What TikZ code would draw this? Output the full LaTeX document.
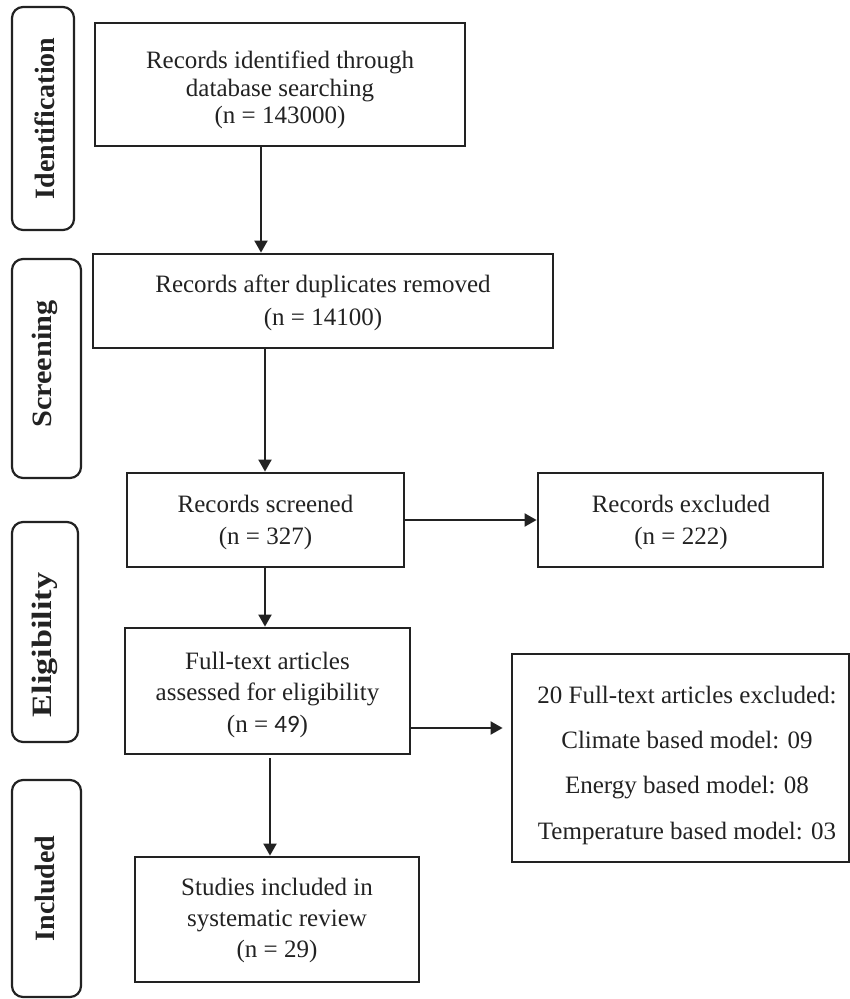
\documentclass[tikz,border=0pt]{standalone}
\usepackage{fontspec}
\setmainfont{Liberation Serif}
\newfontfamily\calib{Carlito}
\usetikzlibrary{arrows.meta}
\definecolor{ink}{HTML}{222222}
\begin{document}
\begin{tikzpicture}[x=1pt,y=-1pt,
  stage/.style={draw=ink, line width=2.2pt, rounded corners=11pt, inner sep=0pt},
  stagetext/.style={rotate=90, font=\fontsize{28}{30}\selectfont\bfseries, text=ink, inner sep=0pt},
  box/.style={draw=ink, line width=2.8pt, inner sep=0pt},
  txt/.style={align=center, text=ink, inner sep=0pt},
  arr/.style={draw=ink, line width=2pt, -{Triangle[length=12pt,width=13pt]}},
]
\useasboundingbox (0,0) rectangle (850,999);

% stage labels
\node[stage, minimum width=62, minimum height=223] (s1) at (43,118.5) {};
\node[stagetext] (s1t) at (45,118.5) {Identification};
\node[stage, minimum width=69, minimum height=219] (s2) at (46.5,368.5) {};
\node[stagetext] (s2t) at (45,364) {\scalebox{1.08}[1]{Screening}};
\node[stage, minimum width=66, minimum height=220] (s3) at (45,632) {};
\node[stagetext] (s3t) at (45,645) {\scalebox{1.22}[1]{Eligibility}};
\node[stage, minimum width=69, minimum height=217] (s4) at (46.5,888.5) {};
\node[stagetext] (s4t) at (45,888.5) {Included};

% boxes
\node[box, minimum width=370, minimum height=123] (b1) at (280,84.5) {};
\node[txt, font=\fontsize{25}{27.5}\selectfont] (t1) at (280,90.5)
  {\strut Records identified through\\\strut database searching\\\strut (n = 143000)};

\node[box, minimum width=460, minimum height=94] (b2) at (323,301) {};
\node[txt, font=\fontsize{25}{33}\selectfont] (t2) at (323,302)
  {\strut Records after duplicates removed\\\strut (n = 14100)};

\node[box, minimum width=277, minimum height=94] (b3) at (265.5,520) {};
\node[txt, font=\fontsize{25}{32}\selectfont] (t3) at (265.5,522)
  {\strut Records screened\\\strut (n = 327)};

\node[box, minimum width=285, minimum height=94] (b3x) at (680.5,520) {};
\node[txt, font=\fontsize{25}{32}\selectfont] (t3x) at (681,522)
  {\strut Records excluded\\\strut (n = 222)};

\node[box, minimum width=285, minimum height=126] (b4) at (267.5,691) {};
\node[txt, font=\fontsize{25}{31.5}\selectfont] (t4) at (267.5,694.5)
  {\strut Full-text articles\\\strut assessed for eligibility\\\strut (n = {\calib 49})};

\node[box, minimum width=337, minimum height=208] (b4x) at (680.5,758) {};
\node[txt, font=\fontsize{25}{45.3}\selectfont] (t4x) at (687,762)
  {\strut 20 Full-text articles excluded:\\\strut Climate based model: 09\\\strut Energy based model: 08\\\strut Temperature based model: 03};

\node[box, minimum width=284, minimum height=125] (b5) at (277,919.5) {};
\node[txt, font=\fontsize{25}{31}\selectfont] (t5) at (277,920)
  {\strut Studies included in\\\strut systematic review\\\strut (n = 29)};

% connectors
\draw[arr] (b1.south -| 261,0) -- (b2.north -| 261,0);
\draw[arr] (b2.south -| 265,0) -- (b3.north -| 265,0);
\draw[arr] (b3.east) -- (b3x.west);
\draw[arr] (b3.south -| 265,0) -- (b4.north -| 265,0);
\draw[arr, shorten >=8pt] (b4.east |- 0,728) -- (b4x.west |- 0,728);
\draw[arr, shorten <=3pt] (b4.south -| 270,0) -- (b5.north -| 270,0);
\end{tikzpicture}
\end{document}
